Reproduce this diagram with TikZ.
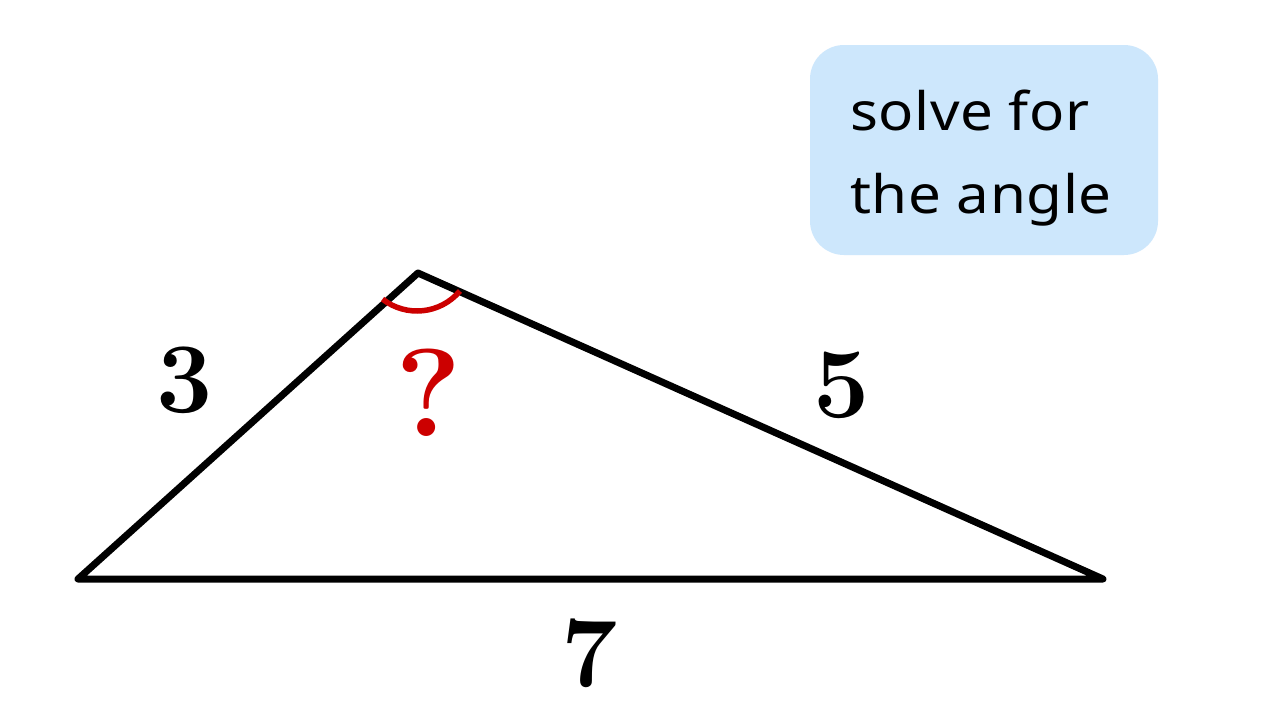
\documentclass[tikz,border=0pt]{standalone}
\usepackage{fontspec}
\newfontfamily\boxfont[FakeStretch=1.1,LetterSpace=1]{Noto Sans}
\definecolor{boxblue}{HTML}{CDE7FC}
\definecolor{angred}{HTML}{CC0000}
\begin{document}
\begin{tikzpicture}[x=1pt,y=-1pt,
  side/.style={line width=7pt,line join=round,line cap=round},
  numlab/.style={inner sep=0pt,font=\fontsize{100}{100}\selectfont\bfseries},
  anglab/.style={inner sep=0pt,text=angred,font=\fontsize{125}{125}\selectfont\bfseries},
  notebox/.style={fill=boxblue,rounded corners=34pt,minimum width=348pt,minimum height=210pt,inner sep=0pt}]
\useasboundingbox (0,0) rectangle (1280,720);
\fill[white] (0,0) rectangle (1280,720);
\coordinate (A) at (78,579);
\coordinate (B) at (418,273);
\coordinate (C) at (1103,579);
\coordinate (O) at (417,255);
\draw[side] (A) -- (B) -- (C) -- cycle;
\draw[angred,line width=5.5pt] (O) ++(40:56) arc[start angle=40,end angle=128,radius=56];
\node[numlab] (l3) at (185,380) {3};
\node[numlab] (l5) at (842,385) {5};
\node[numlab] (l7) at (590,653) {7};
\node[anglab] (q) at (429,393) {?};
\node[notebox] (box) at (984,150) {};
\node[anchor=base west,inner sep=0pt,font=\boxfont\fontsize{53}{83}\selectfont,align=left] (txt) at (850,213) {solve for\\the angle};
\end{tikzpicture}
\end{document}
